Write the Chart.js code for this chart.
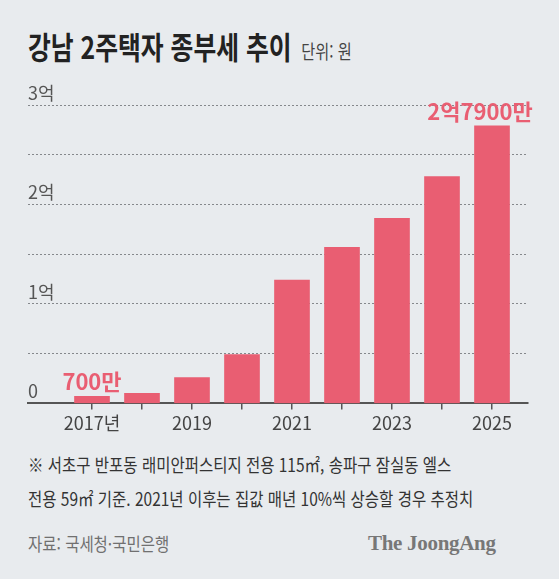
<!DOCTYPE html>
<html lang="ko">
<head>
<meta charset="utf-8">
<script src="https://cdn.jsdelivr.net/npm/chart.js@4"></script>
<style>
  html, body { margin: 0; padding: 0; background: #e8ebee; }
  #wrap { position: relative; width: 559px; height: 579px; background: #e8ebee; font-family: "Noto Sans CJK KR", sans-serif; overflow: hidden; }
  .sx { position: absolute; left: 28px; white-space: nowrap; transform-origin: 0 0; line-height: 1; }
  #title { top: 30px; font-size: 31px; font-weight: 700; color: #222; transform: scaleX(0.8); }
  #title small { font-size: 19px; font-weight: 400; color: #444; margin-left: 12px; }
  #note1 { top: 455px; font-size: 18px; color: #333; transform: scaleX(0.86); }
  #note2 { top: 489px; font-size: 18px; color: #333; transform: scaleX(0.86); }
  #src { top: 534px; font-size: 18px; color: #707070; transform: scaleX(0.86); }
  #logo { position: absolute; left: 368px; top: 531px; font-family: "Liberation Serif", "DejaVu Serif", serif; font-weight: 700; font-size: 21px; color: #777; letter-spacing: -0.3px; }
  canvas { position: absolute; left: 0; top: 70px; }
</style>
</head>
<body>
<div id="wrap">
  <div id="title" class="sx">강남 2주택자 종부세 추이<small>단위: 원</small></div>
  <canvas id="taxChart" width="559" height="380"></canvas>
  <div id="note1" class="sx">※ 서초구 반포동 래미안퍼스티지 전용 115㎡, 송파구 잠실동 엘스</div>
  <div id="note2" class="sx">전용 59㎡ 기준. 2021년 이후는 집값 매년 10%씩 상승할 경우 추정치</div>
  <div id="src" class="sx">자료: 국세청·국민은행</div>
  <div id="logo">The JoongAng</div>
</div>
<script>
// 종부세 (단위: 만원)
const years = [2017, 2018, 2019, 2020, 2021, 2022, 2023, 2024, 2025];
const taxValues = [700, 1000, 2600, 4900, 12400, 15700, 18600, 22800, 27900];
const xLabels = ['2017년', '', '2019', '', '2021', '', '2023', '', '2025'];
const yTickValues = [0, 5000, 10000, 15000, 20000, 25000, 30000];
const yLabels = ['0', '', '1억', '', '2억', '', '3억'];
const labeledBars = [0, 8];

const barColor = '#e95e72';

function formatMan(v) {
    if (v >= 10000) {
        const eok = Math.floor(v / 10000);
        const man = v % 10000;
        return eok + '억' + (man ? man + '만' : '');
    }
    return v + '만';
}

const valueLabels = {
    id: 'valueLabels',
    afterDatasetsDraw(chart) {
        const ctx = chart.ctx;
        const meta = chart.getDatasetMeta(0);
        ctx.save();
        ctx.font = 'bold 22px "Noto Sans CJK KR"';
        ctx.fillStyle = barColor;
        ctx.textAlign = 'center';
        ctx.textBaseline = 'alphabetic';
        labeledBars.forEach(i => {
            const bar = meta.data[i];
            // last label is pulled left so it stays inside the frame
            const shift = i === years.length - 1 ? -12 : 0;
            ctx.fillText(formatMan(taxValues[i]), bar.x + shift, bar.y - 6);
        });
        ctx.restore();
    }
};

new Chart(document.getElementById('taxChart'), {
    type: 'bar',
    data: {
        datasets: [{
            data: years.map((y, i) => ({ x: y, y: taxValues[i] })),
            backgroundColor: barColor,
            borderWidth: 0,
            barThickness: 35
        }]
    },
    options: {
        responsive: false,
        animation: false,
        layout: {
            padding: { left: 28, right: 31, top: 35, bottom: 13 }
        },
        scales: {
            x: {
                type: 'linear',
                min: 2015.72,
                max: 2025.72,
                offset: false,
                afterBuildTicks: function (scale) {
                    scale.ticks = years.map(v => ({ value: v }));
                },
                grid: {
                    offset: false,
                    drawOnChartArea: false,
                    drawTicks: true,
                    tickLength: 6,
                    color: '#555',
                    lineWidth: 1.5
                },
                border: {
                    display: true,
                    color: '#555',
                    width: 2
                },
                ticks: {
                    autoSkip: false,
                    maxRotation: 0,
                    padding: 3,
                    color: '#444',
                    font: { family: '"Noto Sans CJK KR"', size: 18 },
                    callback: function (value) {
                        const i = years.indexOf(value);
                        return i >= 0 ? xLabels[i] : '';
                    }
                }
            },
            y: {
                min: 0,
                max: 30000,
                afterBuildTicks: function (scale) {
                    scale.ticks = yTickValues.map(v => ({ value: v }));
                },
                grid: {
                    color: '#85888c',
                    lineWidth: 1,
                    drawTicks: false
                },
                border: {
                    display: false,
                    dash: [2, 2]
                },
                ticks: {
                    mirror: true,
                    padding: 0,
                    labelOffset: -12,
                    color: '#555',
                    font: { family: '"Noto Sans CJK KR"', size: 18 },
                    callback: function (value) {
                        const i = yTickValues.indexOf(value);
                        return i >= 0 ? yLabels[i] : '';
                    }
                }
            }
        },
        plugins: {
            legend: { display: false },
            tooltip: { enabled: false }
        }
    },
    plugins: [valueLabels]
});
</script>
</body>
</html>
